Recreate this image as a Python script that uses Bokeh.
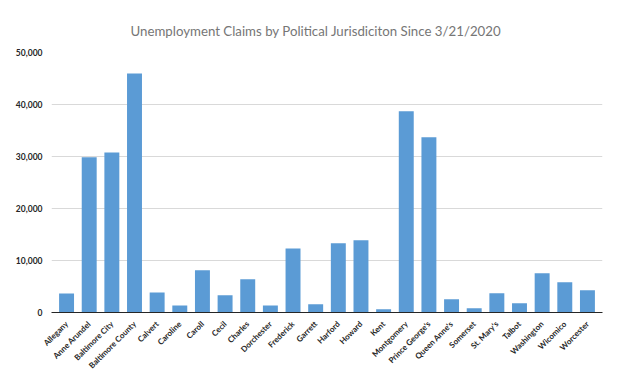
import math
from bokeh.plotting import figure
from bokeh.models import FactorRange, Range1d, NumeralTickFormatter, FixedTicker
from bokeh.embed import file_html
from bokeh.resources import INLINE

title_text = "Unemployment Claims by Political Jurisdiciton Since 3/21/2020"

jurisdictions = [
    "Allegany", "Anne Arundel", "Baltimore City", "Baltimore County", "Calvert",
    "Caroline", "Caroll", "Cecil", "Charles", "Dorchester", "Frederick", "Garrett",
    "Harford", "Howard", "Kent", "Montgomery", "Prince George's", "Queen Anne's",
    "Somerset", "St. Mary's", "Talbot", "Washington", "Wicomico", "Worcester",
]
claims = [
    3650, 29870, 30770, 45960, 3850,
    1350, 8140, 3330, 6410, 1350, 12310, 1600,
    13330, 13910, 640, 38720, 33720, 2560,
    830, 3720, 1790, 7560, 5830, 4300,
]
y_ticks = [0, 10000, 20000, 30000, 40000, 50000]

FONT = "Lato"

p = figure(
    width=606, height=378,
    x_range=FactorRange(factors=jurisdictions, range_padding=0.01375),
    y_range=Range1d(0, 50000),
    output_backend="svg", toolbar_location=None,
    min_border_left=51, min_border_right=4,
    min_border_top=52, min_border_bottom=66,
)

p.vbar(x=jurisdictions, top=claims, width=0.66, color="#5b9bd5", line_color=None)

p.title.text = title_text
p.title.align = "left"
p.title.text_font = FONT
p.title.text_font_size = "13.25px"
p.title.text_font_style = "normal"
p.title.text_color = "#767676"
p.title.offset = 79
p.title.standoff = 28

p.outline_line_color = None
p.background_fill_color = "white"
p.border_fill_color = "white"

p.xgrid.grid_line_color = None
p.ygrid.grid_line_color = "#d9d9d9"
p.ygrid.grid_line_width = 1

p.yaxis.ticker = FixedTicker(ticks=y_ticks)
p.yaxis.formatter = NumeralTickFormatter(format="0,0")
p.yaxis.axis_line_color = None
p.yaxis.major_tick_line_color = None
p.yaxis.minor_tick_line_color = None
p.yaxis.major_label_text_font = FONT
p.yaxis.major_label_text_font_size = "8.5px"
p.yaxis.major_label_text_font_style = "bold"
p.yaxis.major_label_text_color = "#262626"
p.yaxis.major_label_standoff = 3

p.xaxis.axis_line_color = "#262626"
p.xaxis.axis_line_width = 1
p.xaxis.major_tick_line_color = None
p.xaxis.minor_tick_line_color = None
p.xaxis.major_label_orientation = math.pi / 4
p.xaxis.major_label_text_font = FONT
p.xaxis.major_label_text_font_size = "8px"
p.xaxis.major_label_text_font_style = "bold"
p.xaxis.major_label_text_color = "#262626"
p.xaxis.major_label_standoff = 4

open("out.html", "w").write(file_html(p, INLINE))
